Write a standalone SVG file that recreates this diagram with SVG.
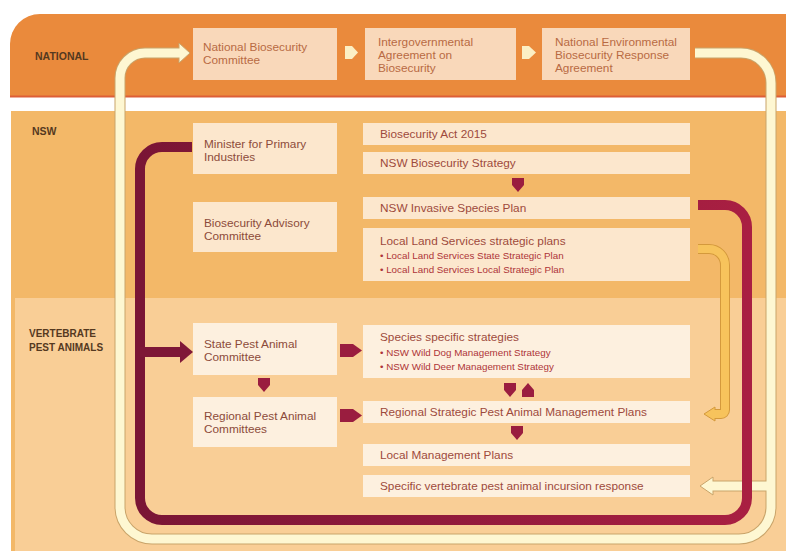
<svg xmlns="http://www.w3.org/2000/svg" width="786" height="551" viewBox="0 0 786 551">
<defs>
<style>
.lbl{font-family:"Liberation Sans",Arial,sans-serif;font-weight:bold;fill:#55391F}
.t{font-family:"Liberation Sans",Arial,sans-serif;font-size:11.8px}
.tn{fill:#B86A43}
.tl{fill:#8C4B3A}
.tr{fill:#9E4A3C}
.tb{font-family:"Liberation Sans",Arial,sans-serif;font-size:9.8px;fill:#AE3438}
.nb{fill:#F9D8BA}
.bx{fill:#FCE7CD}
.bv{fill:#FDF0DF}
.ra{fill:#9A1D3F}
.ca{fill:#FCEFC4}
.co{fill:none;stroke:#C9A46A;stroke-width:11}
.cf{fill:none;stroke:#FEF7D2;stroke-width:9}
.cah{fill:#FEF7D2;stroke:#C9A46A;stroke-width:1}
.yo{fill:none;stroke:#D4993C;stroke-width:10}
.yf{fill:none;stroke:#F7C35C;stroke-width:8}
.yah{fill:#F7C35C;stroke:#D4993C;stroke-width:1}
</style>
<linearGradient id="redGrad" gradientUnits="userSpaceOnUse" x1="140" y1="0" x2="750" y2="0">
<stop offset="0" stop-color="#7A1535"/>
<stop offset="1" stop-color="#A91F42"/>
</linearGradient>
</defs>
<rect x="0" y="0" width="786" height="551" fill="#FFFFFF"/>
<g id="bands">
<path d="M10,97 V44 A30,30 0 0 1 40,14 H786 V97 Z" fill="#EA8A3C"/>
<rect x="10" y="95.5" width="776" height="2" fill="#DD5E37"/>
<rect x="11" y="111" width="775" height="440" fill="#F3B868"/>
<rect x="15" y="298" width="771" height="253" fill="#F9CE96"/>
<text class="lbl" x="35" y="60" font-size="10.5">NATIONAL</text>
<text class="lbl" x="32" y="135" font-size="10.5">NSW</text>
<text class="lbl" x="29" y="337" font-size="10">VERTEBRATE</text>
<text class="lbl" x="29" y="351" font-size="10">PEST ANIMALS</text>
</g>
<g id="connectors">
<!-- cream loop -->
<path class="co" d="M695,53 H741 A30,30 0 0 1 771,83 V507 A32,32 0 0 1 739,539 H152 A32,32 0 0 1 120,507 V78 A25,25 0 0 1 145,53 H180"/>
<path class="co" d="M771,486 H712"/>
<polygon class="cah" points="179,43 190,53 179,63"/>
<polygon class="cah" points="713,477 700,486 713,495"/>
<path class="cf" d="M695,53 H741 A30,30 0 0 1 771,83 V507 A32,32 0 0 1 739,539 H152 A32,32 0 0 1 120,507 V78 A25,25 0 0 1 145,53 H181"/>
<path class="cf" d="M771,486 H711"/>
<!-- yellow -->
<path class="yo" d="M698,249 H709 A16,16 0 0 1 725,265 V410 A4,4 0 0 1 721,414 H714"/>
<polygon class="yah" points="715,407 704,414 715,421"/>
<path class="yf" d="M698,249 H709 A16,16 0 0 1 725,265 V410 A4,4 0 0 1 721,414 H713"/>
<!-- maroon loop -->
<path fill="none" stroke="url(#redGrad)" stroke-width="10" d="M192,147 H162 A22,22 0 0 0 140,169 V498 A22,22 0 0 0 162,520 H725 A22,22 0 0 0 747,498 V227 A22,22 0 0 0 725,205 H698"/>
<path fill="none" stroke="#7E1737" stroke-width="10" d="M140,352 H182"/>
<polygon fill="#801838" points="180,341 193,352 180,363"/>
<!-- small block arrows -->
<polygon class="ca" points="345,46 352,46 358,52.5 352,59 345,59"/>
<polygon class="ca" points="522,46 529,46 536,52.5 529,59 522,59"/>
<polygon class="ra" points="512,178 524,178 524,185 518,192 512,185"/>
<polygon class="ra" points="258,378 270,378 270,385 264,392 258,385"/>
<polygon class="ra" points="340,344 353,344 362,350.5 353,357 340,357"/>
<polygon class="ra" points="340,409 353,409 362,415.5 353,422 340,422"/>
<polygon class="ra" points="504,383 516,383 516,390 510,397 504,390"/>
<polygon class="ra" points="522,397 534,397 534,390 528,383 522,390"/>
<polygon class="ra" points="511,426 523,426 523,433 517,440 511,433"/>
</g>
<g id="n-nbc">
<rect class="nb" x="193" y="28" width="144" height="52"/>
<text class="t tn" x="203" y="51">National Biosecurity</text>
<text class="t tn" x="203" y="64">Committee</text>
</g>
<g id="n-iga">
<rect class="nb" x="365" y="28" width="151" height="52"/>
<text class="t tn" x="378" y="46">Intergovernmental</text>
<text class="t tn" x="378" y="59">Agreement on</text>
<text class="t tn" x="378" y="72">Biosecurity</text>
</g>
<g id="n-nebra">
<rect class="nb" x="542" y="28" width="148" height="52"/>
<text class="t tn" x="555" y="46">National Environmental</text>
<text class="t tn" x="555" y="59">Biosecurity Response</text>
<text class="t tn" x="555" y="72">Agreement</text>
</g>
<g id="n-minister">
<rect class="bx" x="193" y="123" width="144" height="51"/>
<text class="t tl" x="204" y="148">Minister for Primary</text>
<text class="t tl" x="204" y="161">Industries</text>
</g>
<g id="n-bac">
<rect class="bx" x="193" y="202" width="144" height="50"/>
<text class="t tl" x="204" y="227">Biosecurity Advisory</text>
<text class="t tl" x="204" y="240">Committee</text>
</g>
<g id="n-act">
<rect class="bx" x="363" y="123" width="327" height="22"/>
<text class="t tr" x="380" y="138">Biosecurity Act 2015</text>
</g>
<g id="n-strategy">
<rect class="bx" x="363" y="152" width="327" height="22"/>
<text class="t tr" x="380" y="167">NSW Biosecurity Strategy</text>
</g>
<g id="n-isp">
<rect class="bx" x="363" y="197" width="327" height="22"/>
<text class="t tr" x="380" y="212">NSW Invasive Species Plan</text>
</g>
<g id="n-lls">
<rect class="bx" x="363" y="228" width="327" height="53"/>
<text class="t tr" x="380" y="245">Local Land Services strategic plans</text>
<text class="tb" x="380" y="259">• Local Land Services State Strategic Plan</text>
<text class="tb" x="380" y="273">• Local Land Services Local Strategic Plan</text>
</g>
<g id="n-spac">
<rect class="bv" x="193" y="323" width="144" height="52"/>
<text class="t tl" x="204" y="348">State Pest Animal</text>
<text class="t tl" x="204" y="361">Committee</text>
</g>
<g id="n-rpac">
<rect class="bv" x="193" y="397" width="144" height="50"/>
<text class="t tl" x="204" y="420">Regional Pest Animal</text>
<text class="t tl" x="204" y="433">Committees</text>
</g>
<g id="n-species">
<rect class="bv" x="363" y="325" width="327" height="53"/>
<text class="t tr" x="380" y="341">Species specific strategies</text>
<text class="tb" x="380" y="356">• NSW Wild Dog Management Strategy</text>
<text class="tb" x="380" y="370">• NSW Wild Deer Management Strategy</text>
</g>
<g id="n-rspamp">
<rect class="bv" x="363" y="401" width="327" height="22"/>
<text class="t tr" x="380" y="416">Regional Strategic Pest Animal Management Plans</text>
</g>
<g id="n-lmp">
<rect class="bv" x="363" y="444" width="327" height="22"/>
<text class="t tr" x="380" y="459">Local Management Plans</text>
</g>
<g id="n-incursion">
<rect class="bv" x="363" y="475" width="327" height="22"/>
<text class="t tr" x="380" y="490">Specific vertebrate pest animal incursion response</text>
</g>
</svg>
